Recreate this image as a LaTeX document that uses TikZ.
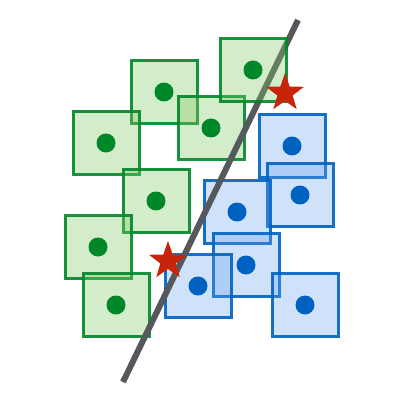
\documentclass[tikz,border=0pt]{standalone}
\usepackage{tikz}
\usetikzlibrary{shapes.geometric}
\definecolor{gline}{RGB}{0,135,42}
\definecolor{gfill}{RGB}{130,200,100}
\definecolor{bline}{RGB}{0,98,192}
\definecolor{bfill}{RGB}{100,160,240}
\definecolor{sepgray}{RGB}{85,88,92}
\definecolor{starred}{RGB}{200,36,10}
\tikzset{
x=1pt, y=-1pt, % pixel-like units, y pointing down
gbox/.style={draw=gline, draw opacity=0.9, fill=gfill, fill opacity=0.35, line width=3pt, minimum width=66pt, minimum height=63pt, inner sep=0pt}, % green samples
bbox/.style={draw=bline, draw opacity=0.9, fill=bfill, fill opacity=0.3, line width=3pt, minimum width=66pt, minimum height=63pt, inner sep=0pt}, % blue samples
gdot/.style={circle, fill=gline, minimum size=19pt, inner sep=0pt},
bdot/.style={circle, fill=bline, minimum size=19pt, inner sep=0pt},
mark star/.style={star, star points=5, star point ratio=2.5, fill=starred, minimum size=40pt, inner sep=0pt}, % support points
}

\begin{document}
\begin{tikzpicture}
    \useasboundingbox (0,0) rectangle (405,404);

    % green class
    \node[gbox] (g2) at (164,92) {};
    \node[gbox] (g3) at (211,128) {};
    \node[gbox] (g4) at (106,143) {};
    \node[gbox] (g5) at (156,201) {};
    \node[gbox] (g6) at (98,247) {};
    \node[gbox] (g7) at (116,305) {};

    % blue class
    \node[bbox] (b1) at (292,146) {};
    \node[bbox] (b2) at (300,195) {};
    \node[bbox] (b3) at (237,212) {};
    \node[bbox] (b4) at (246,265) {};
    \node[bbox] (b5) at (198,286) {};
    \node[bbox] (b6) at (305,305) {};

    % separating line
    \coordinate (top) at (298,20);
    \coordinate (bottom) at (123,382);
    \draw[sepgray, line width=6pt] (top) -- (bottom);

    \node[gbox] (g1) at (253,70) {};

    % dots
    \foreach \n in {g1,g2,g3,g4,g5,g6,g7}
        \node[gdot] (\n dot) at (\n) {};
    \foreach \n in {b1,b2,b3,b4,b5,b6}
        \node[bdot] (\n dot) at (\n) {};

    \node[mark star] (s1) at (285,93) {};
    \node[mark star] (s2) at (168,261) {};

  \end{tikzpicture}
\end{document}
